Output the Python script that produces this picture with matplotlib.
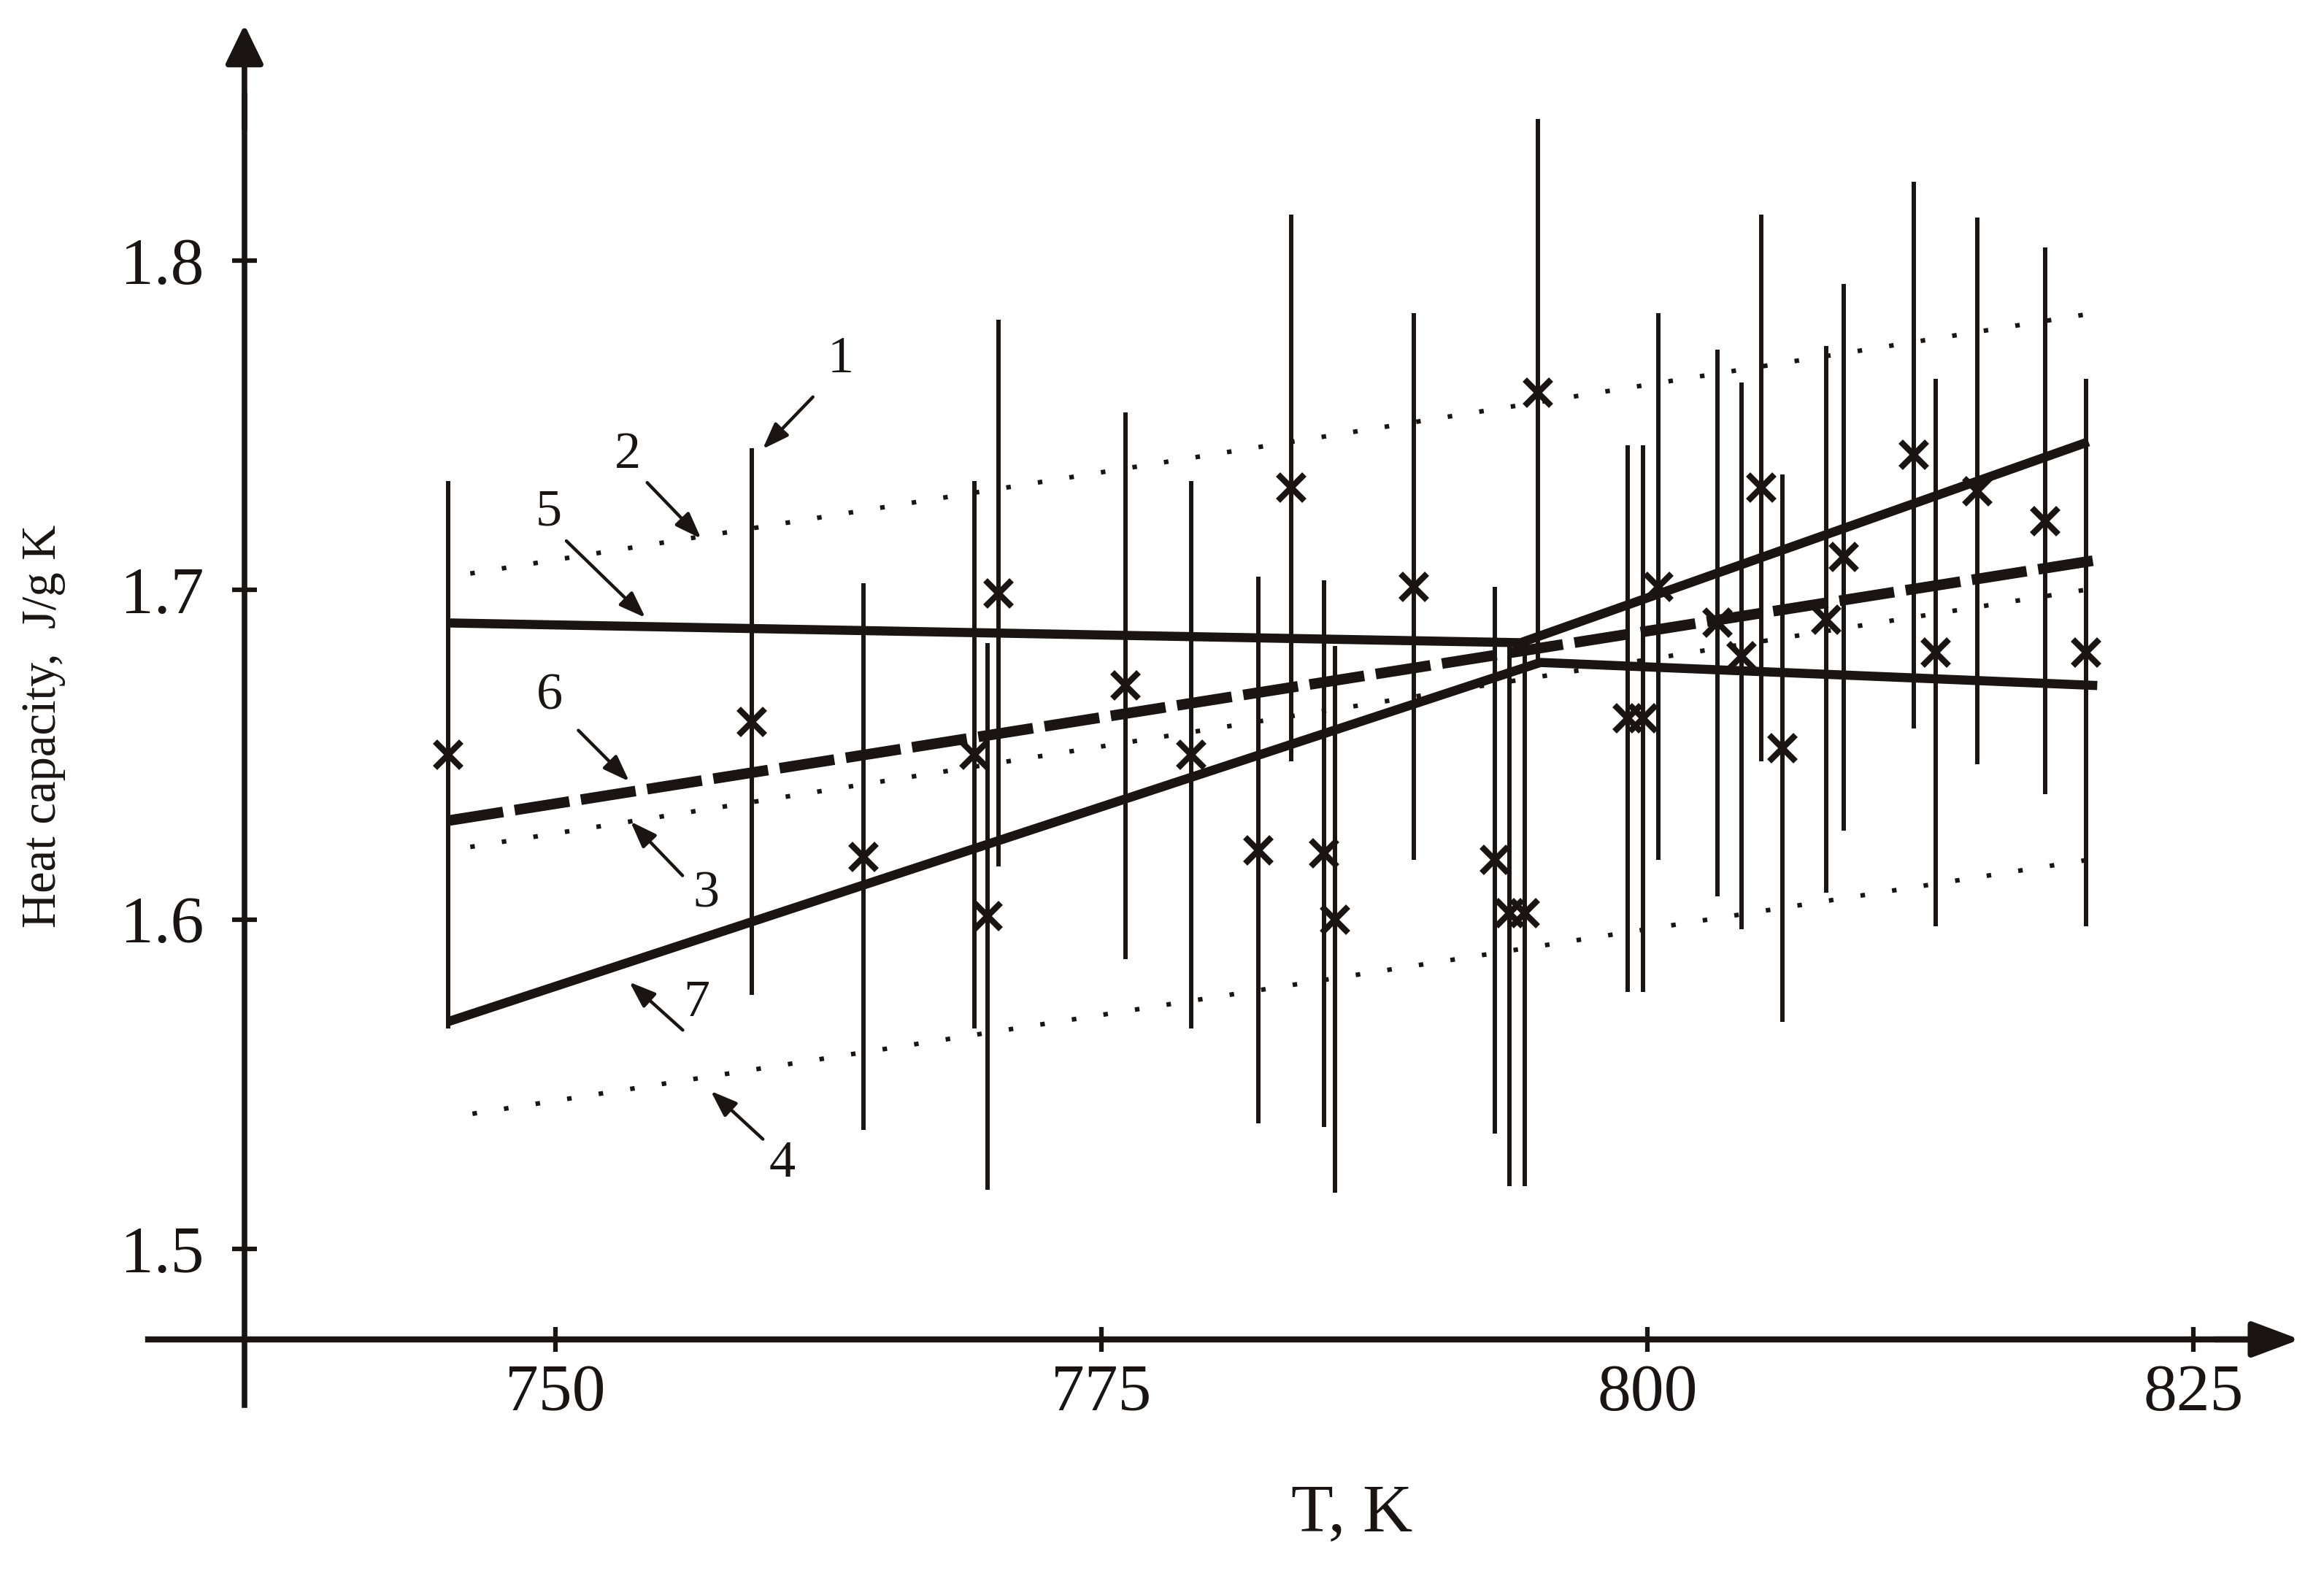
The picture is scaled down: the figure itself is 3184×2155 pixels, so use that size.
import matplotlib
matplotlib.use("Agg")
import matplotlib.pyplot as plt

plt.rcParams['font.family'] = ['Liberation Serif', 'DejaVu Serif']

# measured points: temperature, K and heat capacity, J/g K
temp = [745.1, 759.0, 764.1, 769.2, 769.8, 770.3, 776.1, 779.1, 782.2, 783.7,
        785.2, 785.7, 789.3, 793.0, 793.7, 794.4, 795.0, 799.1, 799.8, 800.5,
        803.2, 804.3, 805.2, 806.2, 808.2, 809.0, 812.2, 813.2, 815.1, 818.2, 820.1]
heat_cap = [1.650, 1.660, 1.619, 1.650, 1.601, 1.699, 1.671, 1.650, 1.621, 1.731,
            1.620, 1.600, 1.701, 1.618, 1.602, 1.602, 1.760, 1.661, 1.661, 1.701,
            1.690, 1.680, 1.731, 1.652, 1.691, 1.710, 1.741, 1.681, 1.730, 1.721, 1.681]
cp_err = 0.083

# fitted lines (vertices)
fit5_t = [745.1, 794.2, 820.2]
fit5_cp = [1.690, 1.684, 1.745]
fit7_t = [745.1, 795.1, 820.6]
fit7_cp = [1.569, 1.678, 1.671]
fit6_t = [745.1, 820.5]
fit6_cp = [1.630, 1.709]

# dotted bands 2, 3, 4
band2_t = [746.1, 820.4]
band2_cp = [1.705, 1.784]
band3_t = [746.1, 820.0]
band3_cp = [1.622, 1.700]
band4_t = [746.2, 820.1]
band4_cp = [1.541, 1.618]

x_ticks = [750, 775, 800, 825]
y_ticks = [1.5, 1.6, 1.7, 1.8]

ink = '#1a1414'

fig = plt.figure(figsize=(31.84, 21.55), dpi=100)
ax = fig.add_axes([0, 0, 1, 1])
ax.set_xlim(724.566, 830.983)
ax.set_ylim(1.4016, 1.8791)

# axes drawn as crossing spines with arrows
for side in ['top', 'right']:
    ax.spines[side].set_visible(False)
ax.spines['left'].set_position(('data', 735.76))
ax.spines['left'].set_bounds(1.4526, 1.85)
ax.spines['bottom'].set_position(('data', 1.4725))
ax.spines['bottom'].set_bounds(731.35, 828.0)
ax.spines['left'].set_linewidth(5.5)
ax.spines['bottom'].set_linewidth(6)
for sp in ax.spines.values():
    sp.set_color(ink)

ax.annotate('', xy=(735.76, 1.8716), xytext=(735.76, 1.84),
            arrowprops=dict(arrowstyle='-|>,head_length=33,head_width=16',
                            mutation_scale=1, lw=5.5, color=ink,
                            shrinkA=0, shrinkB=0))
ax.annotate('', xy=(829.88, 1.4725), xytext=(826.0, 1.4725),
            arrowprops=dict(arrowstyle='-|>,head_length=40,head_width=15',
                            mutation_scale=1, lw=6, color=ink,
                            shrinkA=0, shrinkB=0))

ax.set_xticks(x_ticks)
ax.set_yticks(y_ticks)
ax.set_xticklabels([str(t) for t in x_ticks])
ax.set_yticklabels([f'{t:.1f}' for t in y_ticks])
ax.tick_params(axis='both', direction='inout', length=24, width=4.5,
               colors=ink, labelsize=66)
ax.tick_params(axis='y', pad=28)
ax.tick_params(axis='x', pad=12)

ax.set_xlabel('T, K', fontsize=68, color=ink)
ax.xaxis.set_label_coords(0.5817, 0.057)
ax.set_ylabel('Heat capacity,  J/g K', fontsize=48, color=ink)
ax.yaxis.set_label_coords(0.0283, 0.5383)

# data with error bars
ax.errorbar(temp, heat_cap, yerr=cp_err, fmt='x', color=ink, ecolor=ink,
            elinewidth=4.3, capsize=0, markersize=26, markeredgewidth=6,
            zorder=3)

# fitted lines
ax.plot(fit5_t, fit5_cp, color=ink, lw=9, solid_capstyle='butt',
        solid_joinstyle='miter', zorder=4)
ax.plot(fit7_t, fit7_cp, color=ink, lw=9, solid_capstyle='butt',
        solid_joinstyle='miter', zorder=4)
ax.plot(fit6_t, fit6_cp, color=ink, lw=10.5, linestyle=(0, (5.2, 1.1)),
        dash_capstyle='butt', zorder=4)

for bt, bc in [(band2_t, band2_cp), (band3_t, band3_cp), (band4_t, band4_cp)]:
    ax.plot(bt, bc, color=ink, lw=4.5, linestyle=(0, (1, 6.0)),
            dash_capstyle='butt', zorder=2)

# numbered callouts: label position, arrow tail, arrow head
callouts = [
    ('1', (763.07, 1.7699), (761.79, 1.7586), (759.49, 1.7428)),
    ('2', (753.30, 1.7409), (754.20, 1.7326), (756.67, 1.7156)),
    ('5', (749.68, 1.7236), (750.50, 1.7149), (754.12, 1.6916)),
    ('6', (749.73, 1.6678), (751.05, 1.6574), (753.38, 1.6419)),
    ('3', (756.90, 1.6077), (755.82, 1.6133), (753.44, 1.6297)),
    ('7', (756.45, 1.5746), (755.83, 1.5664), (753.38, 1.5810)),
    ('4', (760.39, 1.5259), (759.50, 1.5333), (757.11, 1.5479)),
]
for num, txt_pos, tail, head in callouts:
    ax.text(txt_pos[0], txt_pos[1], num, fontsize=52, color=ink,
            ha='center', va='center')
    ax.annotate('', xy=head, xytext=tail,
                arrowprops=dict(arrowstyle='-|>,head_length=22,head_width=8',
                                mutation_scale=1, lw=3.2, color=ink,
                                shrinkA=0, shrinkB=0))

fig.savefig('out.png', dpi=100, facecolor='white')
